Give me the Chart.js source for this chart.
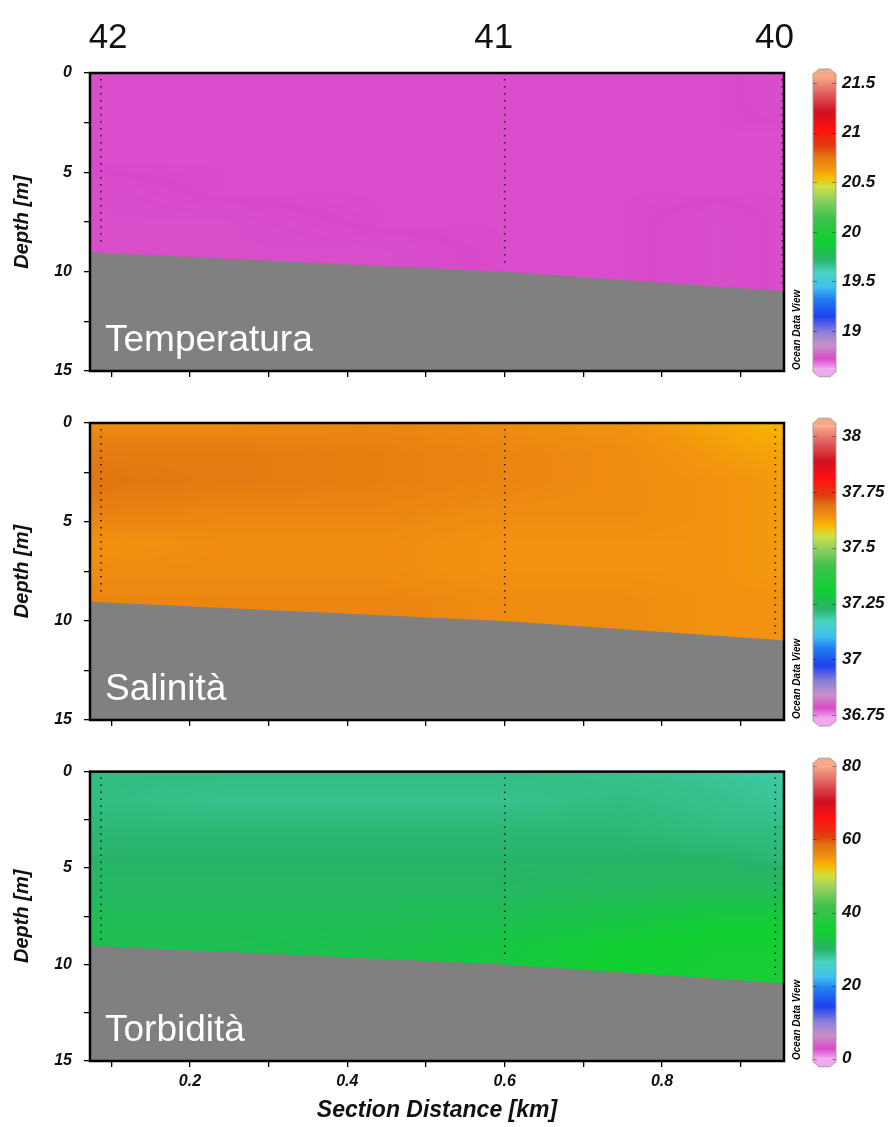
<!DOCTYPE html>
<html>
<head>
<meta charset="utf-8">
<script src="https://cdn.jsdelivr.net/npm/chart.js@4.4.1/dist/chart.umd.min.js"></script>
<style>
    body { margin: 0; background: #fff; }
    #wrap { position: relative; width: 889px; height: 1127px; overflow: hidden; }
    canvas { position: absolute; }
</style>
</head>
<body>
<div id="wrap">
    <canvas id="p1" width="812" height="400" style="left:0;top:0"></canvas>
    <canvas id="p2" width="812" height="350" style="left:0;top:400px"></canvas>
    <canvas id="p3" width="812" height="377" style="left:0;top:750px"></canvas>
    <canvas id="c1" width="81" height="325" style="left:808px;top:60px"></canvas>
    <canvas id="c2" width="81" height="325" style="left:808px;top:410px"></canvas>
    <canvas id="c3" width="81" height="325" style="left:808px;top:750px"></canvas>
</div>
<script>
// grid nodes of the section (distance in km, depth in m)
var gridKm = [0.073, 0.25, 0.45, 0.6, 0.75, 0.87, 0.955];
var gridDepth = [0, 1.5, 3, 4.5, 6, 7.5, 9, 11];

// temperature (deg C), one row per depth
var temperatura = [
    [18.72, 18.72, 18.72, 18.72, 18.72, 18.72, 18.73],
    [18.72, 18.72, 18.72, 18.72, 18.72, 18.72, 18.73],
    [18.72, 18.72, 18.72, 18.72, 18.72, 18.72, 18.72],
    [18.72, 18.72, 18.72, 18.72, 18.72, 18.72, 18.72],
    [18.73, 18.72, 18.72, 18.72, 18.72, 18.72, 18.72],
    [18.73, 18.73, 18.72, 18.72, 18.72, 18.73, 18.72],
    [18.73, 18.73, 18.73, 18.72, 18.72, 18.73, 18.72],
    [18.73, 18.73, 18.73, 18.72, 18.72, 18.73, 18.72]
];

// salinity
var salinita = [
    [37.65, 37.65, 37.66, 37.65, 37.64, 37.62, 37.60],
    [37.68, 37.68, 37.67, 37.66, 37.65, 37.63, 37.62],
    [37.69, 37.68, 37.67, 37.66, 37.65, 37.64, 37.63],
    [37.67, 37.66, 37.66, 37.65, 37.65, 37.64, 37.63],
    [37.64, 37.65, 37.65, 37.64, 37.64, 37.64, 37.63],
    [37.65, 37.65, 37.65, 37.64, 37.64, 37.64, 37.63],
    [37.66, 37.66, 37.66, 37.65, 37.65, 37.64, 37.64],
    [37.66, 37.66, 37.66, 37.65, 37.65, 37.64, 37.64]
];

// turbidity
var torbidita = [
    [29, 29, 29, 29, 28.5, 28, 27.5],
    [29, 28.5, 28.5, 28.5, 29, 28.5, 28],
    [29.5, 29.5, 29.5, 29.5, 29.5, 29, 29],
    [30, 30, 30, 30, 30, 30, 29.5],
    [30.5, 30.5, 30.5, 30.5, 31, 31, 31],
    [31.5, 31.5, 31.5, 32, 33, 34, 34],
    [32, 32, 32.5, 33.5, 35, 36, 36],
    [32, 32.5, 33, 34, 35.5, 36.5, 36.5]
];

// sea floor
var bottomKm = [0.073, 0.087, 0.6, 0.944, 0.955];
var bottomDepth = [9.0, 9.05, 10.0, 10.95, 11.0];

// stations
var stationNames = ['42', '41', '40'];
var stationLabelKm = [0.096, 0.586, 0.943];
var stationKm = [0.087, 0.6, 0.944];
var stationKmTop = [0.087, 0.6, 0.953];
var stationEndDepth = [8.75, 9.75, 10.75];

// axes
var depthTicks = [0, 2.5, 5, 7.5, 10, 12.5, 15];
var distTicks = [0.1, 0.2, 0.3, 0.4, 0.5, 0.6, 0.7, 0.8, 0.9];
var tempTicks = [19, 19.5, 20, 20.5, 21, 21.5];
var salTicks = [36.75, 37, 37.25, 37.5, 37.75, 38];
var turbTicks = [0, 20, 40, 60, 80];

// ODV style palette (position, colour)
var palette = [
    [0.0, '#f0a8f0'], [0.035, '#d94acb'], [0.08, '#c890c8'], [0.125, '#8c80d8'],
    [0.18, '#2040f0'], [0.24, '#2080f0'], [0.28, '#40c0f0'], [0.33, '#48d4c0'],
    [0.375, '#28b468'], [0.44, '#10d030'], [0.52, '#40c050'], [0.58, '#90d060'],
    [0.625, '#d0e040'], [0.66, '#f8b800'], [0.69, '#f29210'], [0.73, '#e07412'],
    [0.76, '#e04010'], [0.82, '#ff1010'], [0.88, '#d01020'], [0.945, '#e06060'],
    [1.0, '#f8a888']
];

var tickFont = { family: 'Liberation Sans, Arial, sans-serif', size: 16, style: 'italic', weight: 'bold' };

function hexRgb(h) {
    return [parseInt(h.substr(1, 2), 16), parseInt(h.substr(3, 2), 16), parseInt(h.substr(5, 2), 16)];
}

var paletteRgb = palette.map(function (p) { return [p[0], hexRgb(p[1])]; });

function colorAt(f) {
    if (f <= 0) return paletteRgb[0][1];
    if (f >= 1) return paletteRgb[paletteRgb.length - 1][1];
    for (var i = 0; i < paletteRgb.length - 1; i++) {
        var a = paletteRgb[i], b = paletteRgb[i + 1];
        if (f <= b[0]) {
            var t = (f - a[0]) / (b[0] - a[0]);
            return [0, 1, 2].map(function (k) { return Math.round(a[1][k] + (b[1][k] - a[1][k]) * t); });
        }
    }
}

function locate(arr, v) {
    if (v <= arr[0]) return [0, 0, 0];
    for (var i = 0; i < arr.length - 1; i++) {
        if (v <= arr[i + 1]) return [i, i + 1, (v - arr[i]) / (arr[i + 1] - arr[i])];
    }
    var n = arr.length - 1;
    return [n, n, 0];
}

function sampleGrid(grid, km, depth) {
    var cx = locate(gridKm, km), cy = locate(gridDepth, depth);
    var a = grid[cy[0]][cx[0]], b = grid[cy[0]][cx[1]];
    var c = grid[cy[1]][cx[0]], d = grid[cy[1]][cx[1]];
    var top = a + (b - a) * cx[2], bot = c + (d - c) * cx[2];
    return top + (bot - top) * cy[2];
}

// paints the gridded field into the plot area, through the chart scales
function fieldPlugin(grid, min, max) {
    return {
        id: 'field',
        beforeDatasetsDraw: function (chart) {
            var a = chart.chartArea, x = chart.scales.x, y = chart.scales.y;
            var w = Math.round(a.right - a.left), h = Math.round(a.bottom - a.top);
            var off = document.createElement('canvas');
            off.width = w; off.height = h;
            var octx = off.getContext('2d');
            var img = octx.createImageData(w, h);
            var kms = [];
            for (var i = 0; i < w; i++) kms.push(x.getValueForPixel(a.left + i + 0.5));
            for (var j = 0; j < h; j++) {
                var depth = y.getValueForPixel(a.top + j + 0.5);
                for (var i2 = 0; i2 < w; i2++) {
                    var v = sampleGrid(grid, kms[i2], depth);
                    var col = colorAt((v - min) / (max - min));
                    var p = (j * w + i2) * 4;
                    img.data[p] = col[0]; img.data[p + 1] = col[1]; img.data[p + 2] = col[2]; img.data[p + 3] = 255;
                }
            }
            octx.putImageData(img, 0, 0);
            chart.ctx.drawImage(off, a.left, a.top);
        }
    };
}

// frame, panel name, ODV mark and station numbers
function decorPlugin(name, showStations) {
    return {
        id: 'decor',
        afterDatasetsDraw: function (chart) {
            var ctx = chart.ctx, a = chart.chartArea;
            ctx.save();
            ctx.fillStyle = '#ffffff';
            ctx.font = '37px "Liberation Sans", Arial, sans-serif';
            ctx.textBaseline = 'alphabetic';
            ctx.fillText(name, a.left + 15, a.bottom - 20);

            ctx.lineWidth = 2.5;
            ctx.strokeStyle = '#000';
            ctx.strokeRect(a.left, a.top, a.right - a.left, a.bottom - a.top);

            ctx.translate(a.right + 13, a.bottom - 1);
            ctx.rotate(-Math.PI / 2);
            ctx.fillStyle = '#000';
            ctx.font = 'italic bold 10px "Liberation Sans", Arial, sans-serif';
            ctx.textAlign = 'left';
            ctx.textBaseline = 'middle';
            ctx.fillText('Ocean Data View', 0, 0);
            ctx.restore();

            if (showStations) {
                ctx.save();
                ctx.fillStyle = '#111';
                ctx.font = '35px "Liberation Sans", Arial, sans-serif';
                ctx.textAlign = 'center';
                ctx.textBaseline = 'alphabetic';
                stationNames.forEach(function (s, i) {
                    ctx.fillText(s, chart.scales.x.getPixelForValue(stationLabelKm[i]), 48);
                });
                ctx.restore();
            }
        }
    };
}

function makePanel(id, grid, min, max, name, padTop, axisH, last, stKm) {
    var datasets = [];
    stKm.forEach(function (km, i) {
        datasets.push({
            data: [{ x: km, y: 0.3 }, { x: km, y: stationEndDepth[i] }],
            borderColor: 'rgba(25,10,25,0.85)',
            borderWidth: 1.6,
            borderDash: [1.6, 5.4],
            pointRadius: 0,
            fill: false
        });
    });
    // sea floor, filled down to the bottom of the (reversed) depth axis
    datasets.push({
        data: bottomKm.map(function (k, i) { return { x: k, y: bottomDepth[i] }; }),
        borderWidth: 0,
        borderColor: '#808080',
        backgroundColor: '#808080',
        pointRadius: 0,
        fill: 'start',
        tension: 0
    });

    var xTitle = { display: false };
    if (last) {
        xTitle = {
            display: true,
            text: 'Section Distance [km]',
            color: '#111',
            font: { family: 'Liberation Sans, Arial, sans-serif', size: 23, style: 'italic', weight: 'bold' },
            padding: { top: 0, bottom: 3 }
        };
    }

    return new Chart(document.getElementById(id), {
        type: 'line',
        data: { datasets: datasets },
        options: {
            responsive: false,
            animation: false,
            layout: { padding: { left: 0, right: 28, top: padTop, bottom: 0 } },
            plugins: { legend: { display: false }, tooltip: { enabled: false } },
            scales: {
                x: {
                    type: 'linear',
                    min: 0.073,
                    max: 0.955,
                    afterBuildTicks: function (s) { s.ticks = distTicks.map(function (v) { return { value: v }; }); },
                    afterFit: function (s) { s.height = axisH; },
                    grid: { drawOnChartArea: false, drawTicks: true, tickLength: 6, color: '#000', lineWidth: 1.3 },
                    border: { display: false },
                    ticks: {
                        padding: 5,
                        maxRotation: 0,
                        autoSkip: false,
                        color: last ? '#111' : 'rgba(0,0,0,0)',
                        font: tickFont,
                        callback: function (v) {
                            var n = Math.round(v * 10);
                            return n % 2 === 0 ? (n / 10).toFixed(1) : '';
                        }
                    },
                    title: xTitle
                },
                y: {
                    type: 'linear',
                    reverse: true,
                    min: 0,
                    max: 15,
                    afterBuildTicks: function (s) { s.ticks = depthTicks.map(function (v) { return { value: v }; }); },
                    afterFit: function (s) { s.width = 90; },
                    grid: { drawOnChartArea: false, drawTicks: true, tickLength: 6, color: '#000', lineWidth: 1.3 },
                    border: { display: false },
                    ticks: {
                        padding: 12,
                        autoSkip: false,
                        color: '#111',
                        font: tickFont,
                        callback: function (v) { return v % 5 === 0 ? String(v) : ''; }
                    },
                    title: {
                        display: true,
                        text: 'Depth [m]',
                        color: '#111',
                        font: { family: 'Liberation Sans, Arial, sans-serif', size: 20, style: 'italic', weight: 'bold' },
                        padding: { top: 10, bottom: 0 }
                    }
                }
            }
        },
        plugins: [fieldPlugin(grid, min, max), decorPlugin(name, id === 'p1')]
    });
}

// arrow caps, outline and small tick marks of the colour bar
var capPlugin = {
    id: 'caps',
    afterDatasetsDraw: function (chart) {
        var ctx = chart.ctx, a = chart.chartArea, y = chart.scales.y;
        var L = a.left, R = a.right, T = a.top, B = a.bottom;
        ctx.save();
        ctx.fillStyle = palette[palette.length - 1][1];
        ctx.beginPath();
        ctx.moveTo(L, T); ctx.lineTo(L, T - 3); ctx.lineTo(L + 6, T - 8);
        ctx.lineTo(R - 6, T - 8); ctx.lineTo(R, T - 3); ctx.lineTo(R, T); ctx.closePath();
        ctx.fill();
        ctx.fillStyle = palette[0][1];
        ctx.beginPath();
        ctx.moveTo(L, B); ctx.lineTo(L, B + 3); ctx.lineTo(L + 6, B + 8);
        ctx.lineTo(R - 6, B + 8); ctx.lineTo(R, B + 3); ctx.lineTo(R, B); ctx.closePath();
        ctx.fill();

        ctx.strokeStyle = '#a0a0a0';
        ctx.lineWidth = 1;
        ctx.beginPath();
        ctx.moveTo(L, B); ctx.lineTo(L, T - 3); ctx.lineTo(L + 6, T - 8); ctx.lineTo(R - 6, T - 8);
        ctx.lineTo(R, T - 3); ctx.lineTo(R, B + 3); ctx.lineTo(R - 6, B + 8); ctx.lineTo(L + 6, B + 8);
        ctx.lineTo(L, B + 3); ctx.closePath();
        ctx.stroke();

        ctx.strokeStyle = 'rgba(0,0,0,0.35)';
        y.ticks.forEach(function (t) {
            var py = Math.round(y.getPixelForValue(t.value)) + 0.5;
            ctx.beginPath();
            ctx.moveTo(L, py); ctx.lineTo(L + 4, py);
            ctx.moveTo(R - 4, py); ctx.lineTo(R, py);
            ctx.stroke();
        });
        ctx.restore();
    }
};

function makeColorbar(id, min, max, ticks, padTop, padBottom) {
    return new Chart(document.getElementById(id), {
        type: 'bar',
        data: {
            labels: [''],
            datasets: [{
                data: [[min, max]],
                borderWidth: 0,
                barPercentage: 1,
                categoryPercentage: 1,
                backgroundColor: function (c) {
                    var a = c.chart.chartArea;
                    if (!a) return null;
                    var g = c.chart.ctx.createLinearGradient(0, a.bottom, 0, a.top);
                    palette.forEach(function (p) { g.addColorStop(p[0], p[1]); });
                    return g;
                }
            }]
        },
        options: {
            responsive: false,
            animation: false,
            layout: { padding: { left: 5, right: 0, top: padTop, bottom: padBottom } },
            plugins: { legend: { display: false }, tooltip: { enabled: false } },
            scales: {
                x: { display: false },
                y: {
                    position: 'right',
                    min: min,
                    max: max,
                    afterBuildTicks: function (s) { s.ticks = ticks.map(function (v) { return { value: v }; }); },
                    afterFit: function (s) { s.width = 53; },
                    grid: { display: false, drawTicks: false },
                    border: { display: false },
                    ticks: {
                        padding: 6,
                        color: '#111',
                        font: { family: 'Liberation Sans, Arial, sans-serif', size: 17, style: 'italic', weight: 'bold' },
                        callback: function (v) { return String(v); }
                    }
                }
            }
        },
        plugins: [capPlugin]
    });
}

var tMin = 18.62, tMax = 21.56;
var sMin = 36.737, sMax = 38.045;
var bMin = 0, bMax = 80;

makePanel('p1', temperatura, tMin, tMax, 'Temperatura', 73, 29, false, stationKmTop);
makePanel('p2', salinita, sMin, sMax, 'Salinità', 23, 30, false, stationKm);
makePanel('p3', torbidita, bMin, bMax, 'Torbidità', 13, 66, true, stationKm);

makeColorbar('c1', tMin, tMax, tempTicks, 17, 15);
makeColorbar('c2', sMin, sMax, salTicks, 15, 17);
makeColorbar('c3', bMin, bMax, turbTicks, 15, 15);
</script>
</body>
</html>
